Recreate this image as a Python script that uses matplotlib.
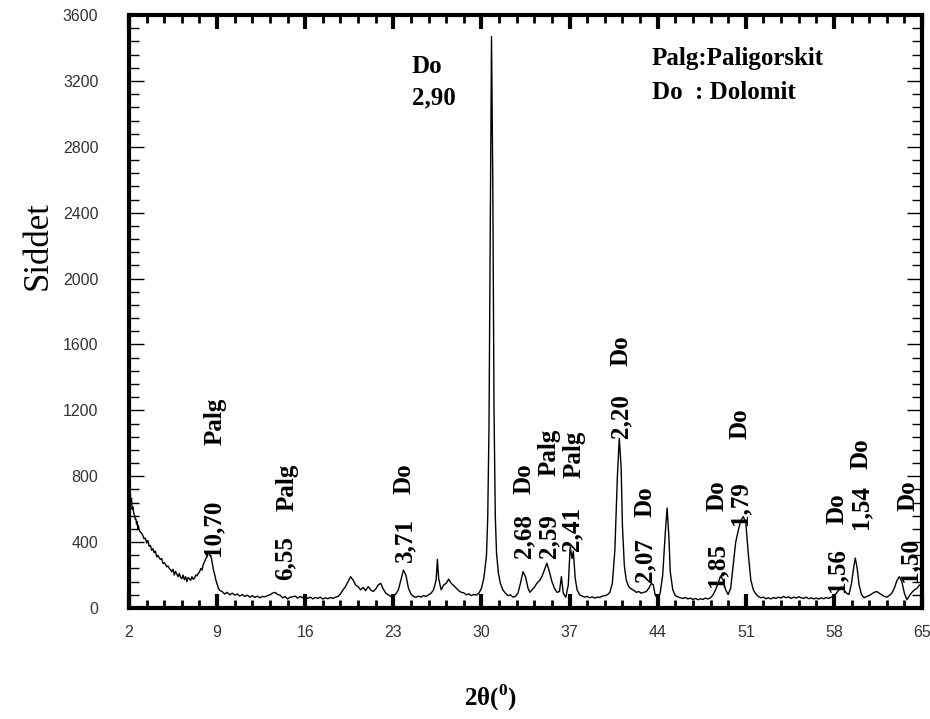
import matplotlib
matplotlib.use('Agg')
import matplotlib.pyplot as plt
from matplotlib.ticker import FixedLocator, MultipleLocator

# XRD pattern (2theta in degrees, intensity in counts)
two_theta = [2.0, 2.05, 2.1, 2.15, 2.2, 2.25, 2.3, 2.35, 2.4, 2.45, 2.5, 2.55,
             2.6, 2.65, 2.7, 2.75, 2.8, 2.9, 3.0, 3.1, 3.2, 3.3, 3.4, 3.5, 3.6,
             3.7, 3.8, 3.9, 4.0, 4.1, 4.2, 4.3, 4.4, 4.5, 4.6, 4.7, 4.8, 4.9, 5.0,
             5.1, 5.2, 5.3, 5.4, 5.5, 5.6, 5.7, 5.8, 5.9, 6.0, 6.1, 6.2, 6.3, 6.4,
             6.5, 6.6, 6.7, 6.8, 6.9, 7.0, 7.1, 7.2, 7.3, 7.4, 7.5, 7.6, 7.7, 7.8,
             7.9, 8.0, 8.1, 8.2, 8.3, 8.35, 8.45, 8.5, 8.6, 8.7, 8.8, 8.9, 9.0,
             9.1, 9.2,
             9.4, 9.6, 9.8, 10.0, 10.2, 10.4, 10.6, 10.8, 11.0, 11.2, 11.4, 11.6,
             11.8, 12.0, 12.2, 12.4, 12.6, 12.8, 13.0, 13.2, 13.4, 13.6, 13.8, 14.0,
             14.2, 14.4, 14.6, 14.8, 15.0, 15.2, 15.4, 15.6, 15.8, 16.0, 16.2, 16.4,
             16.6, 16.8, 17.0, 17.2, 17.4, 17.6, 17.8, 18.0, 18.2, 18.4, 18.6, 18.8,
             19.0, 19.2, 19.4, 19.6, 19.8, 20.0, 20.2, 20.4, 20.6, 20.8, 21.0, 21.2,
             21.4, 21.6, 21.8, 22.0, 22.2, 22.4, 22.6, 22.8, 23.0, 23.2, 23.4, 23.6,
             23.8, 24.0, 24.2, 24.4, 24.6, 24.8, 25.0, 25.2, 25.4, 25.6, 25.8, 26.0,
             26.2, 26.4, 26.5, 26.6, 26.8, 27.0, 27.2, 27.4, 27.6, 27.8, 28.0, 28.2,
             28.4, 28.6, 28.8, 29.0, 29.2, 29.4, 29.6, 29.8, 30.0, 30.2, 30.4, 30.5,
             30.6, 30.7, 30.8, 30.9, 31.0, 31.1, 31.2, 31.35, 31.5, 31.7, 31.9, 32.1,
             32.3, 32.5, 32.7, 32.9, 33.1, 33.3, 33.5, 33.7, 33.85, 34.0, 34.2, 34.4,
             34.6, 34.8, 35.0, 35.2, 35.4, 35.6, 35.8, 36.0, 36.2, 36.35, 36.5, 36.7,
             36.9, 37.05, 37.2, 37.3, 37.45, 37.6, 37.8, 38.0, 38.2, 38.4, 38.6, 38.8,
             39.0, 39.2, 39.4, 39.6, 39.8, 40.0, 40.2, 40.4, 40.6, 40.8, 40.95, 41.1,
             41.2, 41.35, 41.5, 41.7, 41.9, 42.1, 42.3, 42.5, 42.7, 42.9, 43.1, 43.3,
             43.5, 43.65, 43.8, 44.0, 44.2, 44.4, 44.6, 44.75, 44.9, 45.0, 45.2, 45.4,
             45.6, 45.8, 46.0, 46.2, 46.4, 46.6, 46.8, 47.0, 47.2, 47.4, 47.6, 47.8,
             48.0, 48.2, 48.4, 48.6, 48.8, 49.0, 49.2, 49.4, 49.6, 49.8, 50.0, 50.2,
             50.4, 50.6, 50.8, 51.0, 51.2, 51.4, 51.6, 51.8, 52.0, 52.2, 52.4, 52.6,
             52.8, 53.0, 53.2, 53.4, 53.6, 53.8, 54.0, 54.2, 54.4, 54.6, 54.8, 55.0,
             55.2, 55.4, 55.6, 55.8, 56.0, 56.2, 56.4, 56.6, 56.8, 57.0, 57.2, 57.4,
             57.6, 57.8, 58.0, 58.2, 58.4, 58.6, 58.8, 59.0, 59.2, 59.4, 59.6, 59.7,
             59.85, 60.0, 60.2, 60.4, 60.6, 60.8, 61.0, 61.2, 61.4, 61.6, 61.8, 62.0,
             62.2, 62.4, 62.6, 62.8, 63.0, 63.2, 63.4, 63.6, 63.8, 64.0, 64.2, 64.4,
             64.6, 64.8, 65.0]
intensity = [780, 700, 700, 640, 665, 600, 615, 590, 570, 560, 540, 540,
             510, 525, 480, 500, 475, 460, 455, 440, 420, 425, 395, 410, 375,
             380, 350, 360, 335, 345, 310, 320, 305, 295, 300, 270, 275, 265, 250,
             255, 240, 232, 220, 235, 200, 222, 205, 190, 210, 185, 178, 200, 172,
             190, 160, 185, 178, 168, 190, 175, 180, 200, 195, 210, 218, 240, 230,
             265, 280, 300, 310, 335, 340, 315, 318, 280, 235, 205, 170, 145,
             120, 108,
             100, 85, 95, 80, 90, 78, 85, 72, 82, 70, 78, 66,
             75, 64, 72, 62, 70, 68, 75, 80, 90, 95, 82, 78,
             62, 70, 55, 65, 68, 72, 60, 70, 62, 68, 58, 66,
             55, 64, 58, 66, 54, 62, 56, 64, 58, 65, 70, 85,
             110, 130, 160, 190, 170, 140, 130, 110, 125, 105, 130, 110,
             100, 115, 140, 150, 115, 90, 80, 70, 75, 85, 110, 170,
             230, 200, 120, 85, 70, 65, 72, 66, 75, 70, 80, 90,
             110, 170, 295, 180, 110, 140, 150, 175, 150, 135, 120, 105,
             95, 92, 80, 86, 75, 82, 78, 90, 120, 185, 320, 550,
             1100, 2300, 3470, 2600, 1200, 560, 330, 210, 150, 110, 90, 75,
             80, 66, 70, 90, 150, 220, 190, 120, 95, 110, 125, 150,
             165, 190, 230, 272, 220, 160, 120, 95, 100, 190, 90, 65,
             140, 370, 300, 345, 180, 110, 80, 72, 66, 70, 62, 68,
             60, 66, 64, 72, 75, 80, 95, 150, 350, 800, 1030, 850,
             500, 260, 170, 130, 115, 108, 95, 100, 90, 95, 100, 120,
             150, 140, 80, 55, 90, 200, 450, 607, 420, 220, 110, 75,
             68, 62, 58, 64, 55, 60, 52, 58, 50, 56, 52, 60,
             55, 62, 80, 110, 150, 195, 170, 110, 82, 120, 260, 400,
             470, 530, 555, 520, 330, 170, 110, 85, 70, 62, 66, 56,
             62, 55, 64, 58, 66, 60, 70, 62, 68, 58, 66, 60,
             68, 62, 58, 66, 56, 62, 55, 60, 54, 62, 56, 64,
             58, 66, 72, 90, 110, 128, 110, 90, 82, 150, 260, 303,
             240, 140, 80, 62, 70, 75, 85, 95, 100, 90, 80, 70,
             66, 75, 90, 120, 165, 190, 160, 90, 50, 75, 95, 110,
             120, 140, 130]

x_ticks = [2, 9, 16, 23, 30, 37, 44, 51, 58, 65]
y_ticks = [0, 400, 800, 1200, 1600, 2000, 2400, 2800, 3200, 3600]

# peak labels: d-spacing and phase
peak_d = ['10,70', '6,55', '3,71', '2,68', '2,59', '2,41', '2,20',
          '2,07', '1,85', '1,79', '1,56', '1,54', '1,50']
peak_phase = ['Palg', 'Palg', 'Do', 'Do', 'Palg', 'Palg', 'Do',
              'Do', 'Do', 'Do', 'Do', 'Do', 'Do']

# label placement (x of number, y of number, x of phase, y of phase)
label_pos = [(8.67, 486, 8.83, 1135), (14.39, 304, 14.55, 735),
             (23.92, 413, 23.84, 783), (33.37, 437, 33.37, 783),
             (35.36, 437, 35.36, 947), (37.19, 480, 37.35, 935),
             (41.08, 1166, 41.08, 1560), (42.98, 291, 42.98, 644),
             (48.70, 261, 48.70, 680), (50.53, 638, 50.53, 1117),
             (58.23, 231, 58.23, 601), (60.14, 613, 60.14, 935),
             (64.03, 291, 63.87, 680)]

plt.rcParams['mathtext.fontset'] = 'custom'
plt.rcParams['mathtext.bf'] = 'Liberation Serif:bold'
plt.rcParams['mathtext.rm'] = 'Liberation Serif'

fig = plt.figure(figsize=(9.3, 7.19), dpi=100)
ax = fig.add_axes([0.1387, 0.1544, 0.8527, 0.8246])

ax.plot(two_theta, intensity, color='black', lw=1.0)

ax.set_xlim(2, 65)
ax.set_ylim(0, 3600)
ax.set_xticks(x_ticks)
ax.set_yticks(y_ticks)
ax.xaxis.set_minor_locator(FixedLocator([2 + 1.4 * i for i in range(46)]))
ax.yaxis.set_minor_locator(MultipleLocator(80))

for s in ax.spines.values():
    s.set_linewidth(3)

ax.tick_params(axis='x', which='major', direction='in', length=10, width=3,
               top=True, bottom=True, pad=12)
ax.tick_params(axis='x', which='minor', direction='in', length=6, width=2,
               top=True, bottom=True)
ax.tick_params(axis='y', which='major', direction='in', length=11, width=1,
               left=True, right=True, pad=22)
ax.tick_params(axis='y', which='minor', direction='in', length=7, width=1,
               left=True, right=True)
for lab in ax.get_xticklabels() + ax.get_yticklabels():
    lab.set_fontfamily('Liberation Sans')
    lab.set_fontsize(11.5)
    lab.set_color('#333333')

bold = dict(fontsize=18, fontweight='bold', family='Liberation Serif')
for d, ph, (xn, yn, xp, yp) in zip(peak_d, peak_phase, label_pos):
    ax.text(xn, yn, d, rotation=90, ha='center', va='center', **bold)
    ax.text(xp, yp, ph, rotation=90, ha='center', va='center', **bold)

ax.text(24.48, 3285, 'Do', ha='left', va='center', **bold)
ax.text(24.48, 3097, '2,90', ha='left', va='center', **bold)
ax.text(43.54, 3339, 'Palg:Paligorskit', ha='left', va='center', **bold)
ax.text(43.54, 3127, 'Do  : Dolomit', ha='left', va='center', **bold)

fig.text(38 / 930, 0.659, 'Siddet', rotation=90, fontsize=25,
         family='Liberation Serif', ha='center', va='center')
fig.text(490 / 930, 1 - 698 / 719, r'2θ($^\mathbf{0}$)', fontsize=18,
         fontweight='bold', family='Liberation Serif', ha='center', va='center')

fig.savefig('out.png', dpi=100)
